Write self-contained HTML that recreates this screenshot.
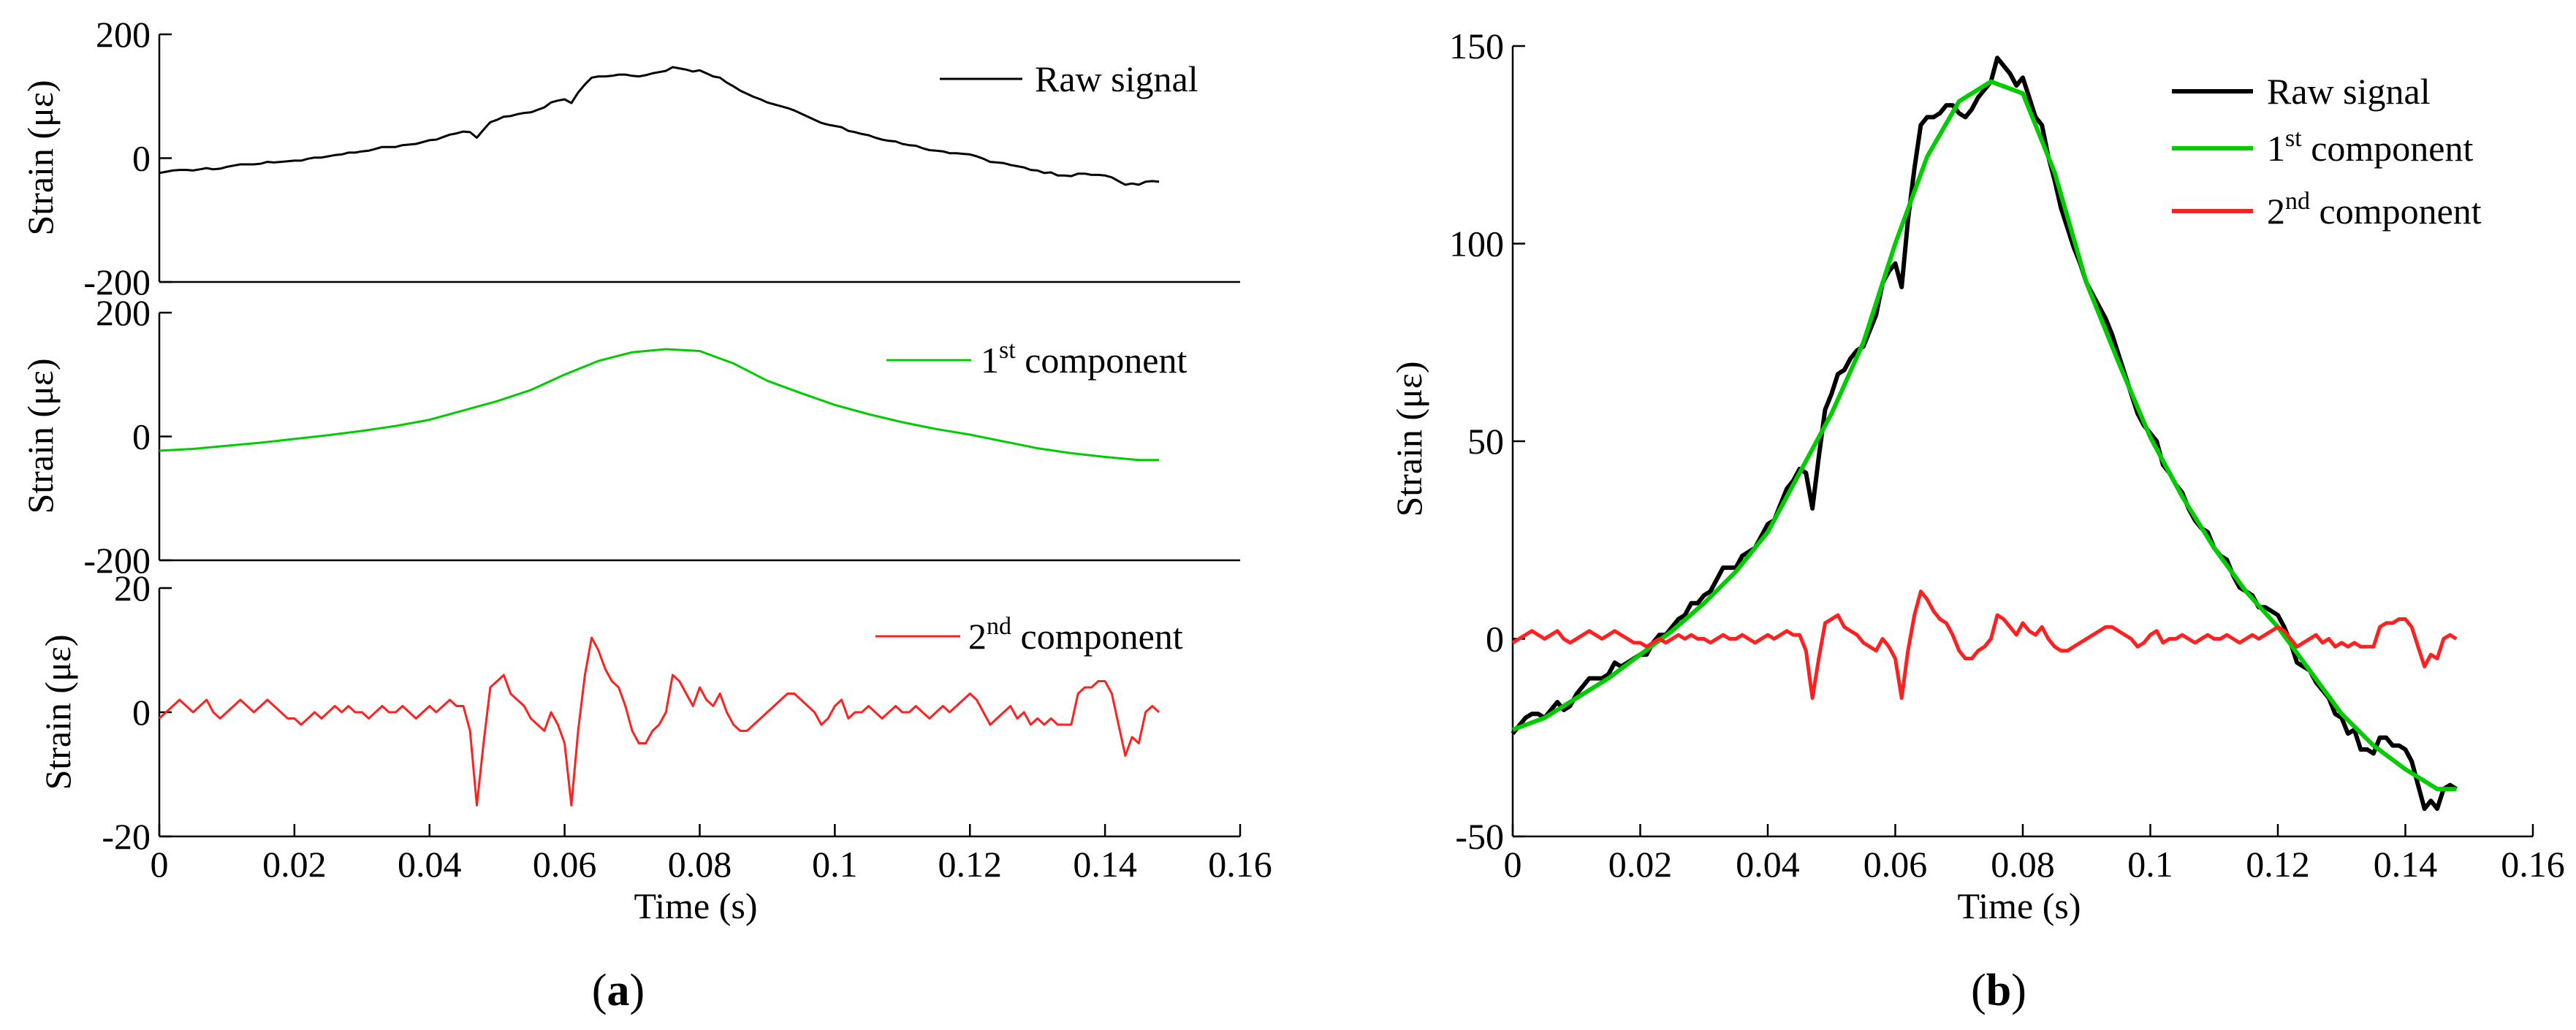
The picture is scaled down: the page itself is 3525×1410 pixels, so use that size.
<!DOCTYPE html>
<html><head><meta charset="utf-8"><style>
body{margin:0;background:#fff}
svg{display:block;font-family:"Liberation Serif","Times New Roman",serif}
svg text{font-family:"Liberation Serif","Times New Roman",serif;fill:#000}
</style></head><body>
<svg id="fig" width="3525" height="1410" viewBox="0 0 3525 1410" font-family="Liberation Serif, serif"></svg>
<script>
const xTicks=[0,0.02,0.04,0.06,0.08,0.1,0.12,0.14,0.16];
const xTickLabels=["0","0.02","0.04","0.06","0.08","0.1","0.12","0.14","0.16"];
const t1=[0,0.005,0.01,0.015,0.02,0.025,0.03,0.035,0.04,0.045,0.05,0.055,0.06,0.065,0.07,0.075,0.08,0.085,0.09,0.095,0.1,0.105,0.11,0.115,0.12,0.125,0.13,0.135,0.14,0.145,0.148];
const comp1=[-23,-20,-15,-10,-4,2,9,17,27,42,57,75,100,122,136,141,138,118,90,70,51,36,23,12,3,-8,-19,-27,-33,-38,-38];
const comp2=[-1,0,1,2,1,0,1,2,0,-1, 0,1,2,1,0,1,2,1,0,-1, -1,-2,-1,0,-1,0,1,0,1,0, 0,-1,0,1,0,0,1,0,-1,0,
1,0,1,2,1,1,-3,-15,-5,4, 5,6,3,2,1,-1,-2,-3,0,-2, -5,-15,-3,6,12,10,7,5,4,1, -3,-5,-5,-3,-2,0,6,5,3,1,
4,2,1,3,0,-2,-3,-3,-2,-1, 0,1,2,3,3,2,1,0,-2,-1, 1,2,-1,0,0,1,0,-1,0,1, 0,0,1,0,-1,0,1,0,1,2,
3,2,0,-2,-1,0,1,-1,0,-2, -1,-2,-1,-2,-2,-2,3,4,4,5, 5,3,-2,-7,-4,-5,0,1,0];
const raw=[-24,-22,-20,-19,-19,-20,-18,-16,-18,-17, -14,-12,-10,-10,-10,-9,-6,-7,-6,-5, -4,-4,-1,1,1,3,5,6,9,9,
11,12,15,18,18,18,21,22,23,26, 29,30,34,38,40,43,42,33,46,58, 62,67,68,71,73,74,78,82,90,93,
95,89,106,119,130,132,132,133,135,135, 133,132,134,137,139,141,147,145,143,140, 142,137,132,130,122,116,109,104,99,95,
90,87,84,81,77,72,67,62,57,54, 52,50,44,42,39,37,33,30,28,27, 23,21,20,16,13,12,11,8,8,7,
6,3,-1,-6,-7,-8,-11,-13,-15,-19, -20,-24,-23,-28,-28,-29,-25,-25,-27,-27, -28,-31,-37,-43,-41,-43,-38,-37,-38];
const tms=raw.map((_,i)=>i*0.001);

const NS="http://www.w3.org/2000/svg";
const svg=document.getElementById('fig');
const FONT='"Liberation Serif", serif';
function mk(tag,attrs,parent){const e=document.createElementNS(NS,tag);for(const k in attrs)e.setAttribute(k,attrs[k]);(parent||svg).appendChild(e);return e;}
function txt(s,x,y,size,anchor,parent){const e=mk('text',{x:x,y:y,'font-size':size,'text-anchor':anchor||'start','font-family':FONT},parent);e.textContent=s;return e;}

function axes(x0,x1,y0,y1,ymin,ymax,yTicks,withX,tickLen){
  const sx=v=>x0+(v-0)/(0.16)*(x1-x0);
  const sy=v=>y1-(v-ymin)/(ymax-ymin)*(y1-y0);
  const g=mk('g',{});
  
  
  mk('line',{x1:x0,y1:y0,x2:x0,y2:y1,stroke:'#000','stroke-width':2.5},g);
  mk('line',{x1:x0,y1:y1,x2:x1,y2:y1,stroke:'#000','stroke-width':2.5},g);
  yTicks.forEach(v=>{
    mk('line',{x1:x0,y1:sy(v),x2:x0+tickLen,y2:sy(v),stroke:'#000','stroke-width':2.5},g);
    const t=txt(String(v),x0-12,sy(v)+17,50,'end',g);
    
    
  });
  if(withX){
    xTicks.forEach((v,i)=>{
      mk('line',{x1:sx(v),y1:y1,x2:sx(v),y2:y1-tickLen,stroke:'#000','stroke-width':2.5},g);
      const t=txt(xTickLabels[i],sx(v),y1+55,50,'middle',g);
      
      
    });
  }
  return {sx,sy};
}
function series(ts,vs,sc,color,w,name){
  const d=vs.map((v,i)=>(i?'L':'M')+sc.sx(ts[i]).toFixed(1)+','+sc.sy(v).toFixed(1)).join('');
  const p=mk('path',{d:d,fill:'none',stroke:color,'stroke-width':w,'stroke-linejoin':'round'});
  
  
}
function legend(x1,x2,tx,y,color,w,main,sup,rest,name){
  const g=mk('g',{});
  
  
  mk('line',{x1:x1,y1:y,x2:x2,y2:y,stroke:color,'stroke-width':w},g);
  const t=mk('text',{x:tx,y:y+17,'font-size':50,'font-family':FONT},g);
  t.appendChild(document.createTextNode(main));
  if(sup){const s=mk('tspan',{dy:-20,'font-size':34},t);s.textContent=sup;
    const r=mk('tspan',{dy:20,'font-size':50},t);r.textContent=' '+rest;}
}
function ylabel(x,y,name){
  const t=mk('text',{x:0,y:0,'font-size':50,'text-anchor':'middle','font-family':FONT,transform:`translate(${x},${y}) rotate(-90)`});
  t.textContent='Strain (με)';
  
  
}
const RED='#ff2020',GREEN='#00cc00';
// Panel (a)
const L0=218,L1=1697;
let s=axes(L0,L1,47,386,-200,200,[200,0,-200],false,17);
series(tms,raw,s,'#000',3,'raw-signal-line-a');
legend(1286,1399,1416,108,'#000',3,'Raw signal',null,null,'legend-raw-a');
ylabel(72,216,'y-axis-title-a1');
s=axes(L0,L1,428,767,-200,200,[200,0,-200],false,17);
series(t1,comp1,s,GREEN,3,'first-component-line-a');
legend(1213,1329,1342,493,GREEN,3,'1','st','component','legend-first-a');
ylabel(72,597,'y-axis-title-a2');
s=axes(L0,L1,805,1145,-20,20,[20,0,-20],true,17);
series(tms,comp2,s,RED,3,'second-component-line-a');
legend(1198,1314,1325,871,RED,3,'2','nd','component','legend-second-a');
ylabel(96,975,'y-axis-title-a3');
let t=txt('Time (s)',952,1257,50,'middle');


t=mk('text',{x:846,y:1376,'font-size':62,'text-anchor':'middle','font-family':FONT});
t.innerHTML='(<tspan font-weight="bold">a</tspan>)';


// Panel (b)
s=axes(2070,3466,63,1145,-50,150,[150,100,50,0,-50],true,17);
series(tms,raw,s,'#000',6,'raw-signal-line-b');
series(t1,comp1,s,GREEN,6,'first-component-line-b');
series(tms,comp2,s,RED,5,'second-component-line-b');
legend(2972,3083,3102,125,'#000',6,'Raw signal',null,null,'legend-raw-b');
legend(2972,3083,3102,203,GREEN,6,'1','st','component','legend-first-b');
legend(2972,3083,3102,289,RED,6,'2','nd','component','legend-second-b');
ylabel(1945,601,'y-axis-title-b');
t=txt('Time (s)',2763,1257,50,'middle');


t=mk('text',{x:2735,y:1376,'font-size':62,'text-anchor':'middle','font-family':FONT});
t.innerHTML='(<tspan font-weight="bold">b</tspan>)';


</script>
</body></html>
